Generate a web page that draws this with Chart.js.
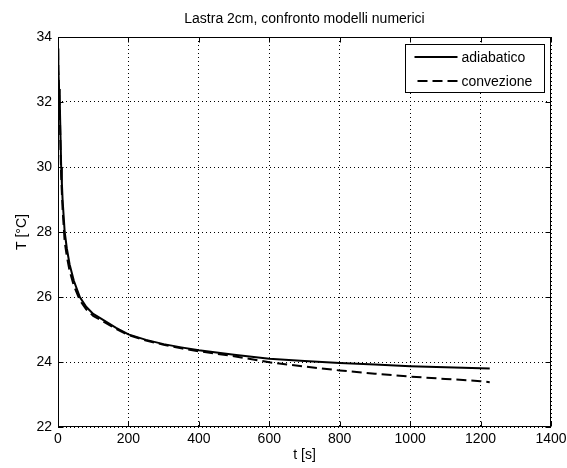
<!DOCTYPE html>
<html>
<head>
<meta charset="utf-8">
<title>Lastra 2cm</title>
<script src="https://cdn.jsdelivr.net/npm/chart.js@4/dist/chart.umd.min.js"></script>
<style>
  html, body { margin: 0; padding: 0; background: #fff; }
  #wrap { width: 567px; height: 468px; position: relative; }
</style>
</head>
<body>
<div id="wrap"><canvas id="grafico"></canvas></div>
<script>
// Tempi di campionamento [s]
const tempi = [0, 1, 3, 5, 7, 9, 11, 13, 16, 19, 25, 33, 45, 62, 80, 100, 120, 165, 200, 250, 300, 350, 400, 500, 600, 700, 800, 900, 1000, 1100, 1200, 1226];
// Temperatura, modello adiabatico [°C]
const adiabatico = [33.65, 33.0, 32.4, 32.0, 31.0, 30.0, 29.5, 29.0, 28.5, 28.0, 27.5, 27.0, 26.5, 26.0, 25.7, 25.48, 25.35, 25.05, 24.85, 24.68, 24.55, 24.45, 24.36, 24.22, 24.1, 24.03, 23.97, 23.92, 23.87, 23.84, 23.81, 23.8];
// Temperatura, modello con convezione [°C]
const convezione = [33.6, 33.0, 32.3, 31.8, 30.7, 29.7, 29.2, 28.7, 28.2, 27.7, 27.25, 26.8, 26.35, 25.9, 25.62, 25.42, 25.3, 25.02, 24.83, 24.66, 24.53, 24.42, 24.33, 24.18, 23.99, 23.86, 23.74, 23.64, 23.55, 23.48, 23.41, 23.38];

const xTicks = [0, 200, 400, 600, 800, 1000, 1200, 1400];
const yTicks = [22, 24, 26, 28, 30, 32, 34];
const nomiSerie = ['adiabatico', 'convezione'];
const titolo = 'Lastra 2cm, confronto modelli numerici';
const etichettaX = 't [s]';
const etichettaY = 'T [°C]';

const FONT = '"Liberation Sans", Arial, Helvetica, sans-serif';
const FS = 14;

const punti = (ys) => tempi.map((t, i) => ({ x: t, y: ys[i] }));

// Titolo centrato sugli assi, cornice, tacche interne e legenda in alto a destra
const cornice = {
  id: 'cornice',
  afterDatasetsDraw(chart) {
    const { ctx, chartArea: a, scales: { x, y } } = chart;
    const L = Math.round(a.left) + 0.5, R = Math.round(a.right) - 0.5;
    const T = Math.round(a.top) + 0.5, B = Math.round(a.bottom) - 0.5;
    ctx.save();

    ctx.fillStyle = '#000';
    ctx.font = FS + 'px ' + FONT;
    ctx.textAlign = 'center';
    ctx.textBaseline = 'middle';
    ctx.fillText(titolo, (a.left + a.right) / 2, a.top - 18);

    ctx.strokeStyle = '#000';
    ctx.lineWidth = 1;
    ctx.setLineDash([]);
    ctx.strokeRect(L, T, R - L, B - T);
    const tl = 5;
    ctx.beginPath();
    xTicks.forEach(v => {
      const p = Math.round(x.getPixelForValue(v)) + 0.5;
      ctx.moveTo(p, B); ctx.lineTo(p, B - tl);
      ctx.moveTo(p, T); ctx.lineTo(p, T + tl);
    });
    yTicks.forEach(v => {
      const p = Math.round(y.getPixelForValue(v)) + 0.5;
      ctx.moveTo(L, p); ctx.lineTo(L + tl, p);
      ctx.moveTo(R, p); ctx.lineTo(R - tl, p);
    });
    ctx.stroke();

    // legenda
    const bw = 139, bh = 48;
    const bx = Math.round(a.right - 7 - bw) + 0.5;
    const by = Math.round(a.top + 7) + 0.5;
    ctx.fillStyle = '#fff';
    ctx.fillRect(bx, by, bw, bh);
    ctx.strokeRect(bx, by, bw, bh);
    const righe = [by + 12, by + 36];
    chart.data.datasets.forEach((ds, i) => {
      const ry = Math.round(righe[i]);
      ctx.beginPath();
      ctx.lineWidth = ds.borderWidth;
      ctx.strokeStyle = ds.borderColor;
      ctx.setLineDash(ds.borderDash || []);
      ctx.moveTo(bx + (i === 0 ? 9 : 12), ry);
      ctx.lineTo(bx + 52, ry);
      ctx.stroke();
      ctx.setLineDash([]);
      ctx.fillStyle = '#000';
      ctx.font = FS + 'px ' + FONT;
      ctx.textBaseline = 'middle';
      ctx.textAlign = 'left';
      ctx.fillText(ds.label, bx + 56, ry + 1);
    });
    ctx.restore();
  }
};

const tickFont = { family: FONT, size: FS };

new Chart(document.getElementById('grafico'), {
  type: 'line',
  data: {
    datasets: [
      { label: nomiSerie[0], data: punti(adiabatico), borderColor: '#000', borderWidth: 2, pointRadius: 0, tension: 0, fill: false },
      { label: nomiSerie[1], data: punti(convezione), borderColor: '#000', borderWidth: 2, borderDash: [10, 5], pointRadius: 0, tension: 0, fill: false }
    ]
  },
  options: {
    responsive: true,
    maintainAspectRatio: false,
    animation: false,
    layout: { padding: { left: 0, right: 16, top: 37, bottom: 0 } },
    plugins: {
      legend: { display: false },
      tooltip: { enabled: false },
      title: { display: false }
    },
    scales: {
      x: {
        type: 'linear',
        min: 0, max: 1400,
        afterBuildTicks: s => { s.ticks = xTicks.map(v => ({ value: v })); },
        afterFit: s => { s.height = 41; s.paddingLeft = 0; s.paddingRight = 0; },
        ticks: { color: '#000', font: tickFont, padding: 4, maxRotation: 0, autoSkip: false, callback: v => String(v) },
        grid: { color: '#000', lineWidth: 1, drawTicks: false },
        border: { display: false, dash: [1, 3] },
        title: { display: true, text: etichettaX, color: '#000', font: tickFont, padding: { top: 0, bottom: 4 } }
      },
      y: {
        type: 'linear',
        min: 22, max: 34,
        afterBuildTicks: s => { s.ticks = yTicks.map(v => ({ value: v })); },
        afterFit: s => { s.width = 58; s.paddingTop = 0; s.paddingBottom = 0; },
        ticks: { color: '#000', font: tickFont, padding: 6, autoSkip: false, callback: v => String(v) },
        grid: { color: '#000', lineWidth: 1, drawTicks: false },
        border: { display: false, dash: [1, 3] },
        title: { display: true, text: etichettaY, color: '#000', font: tickFont, padding: { top: 14, bottom: 0 } }
      }
    }
  },
  plugins: [cornice]
});
</script>
</body>
</html>
